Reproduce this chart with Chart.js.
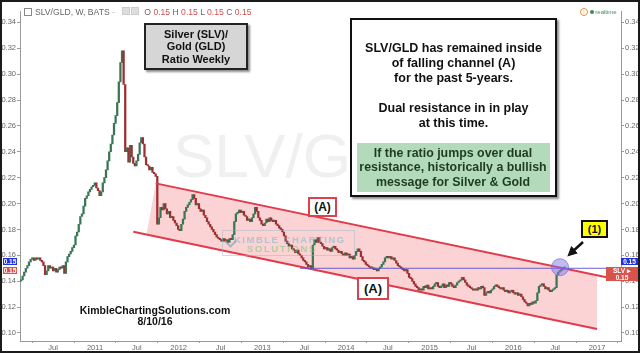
<!DOCTYPE html>
<html>
<head>
<meta charset="utf-8">
<script src="https://cdn.jsdelivr.net/npm/chart.js@4.4.0/dist/chart.umd.min.js"></script>
<style>
  body { margin: 0; background: #fff; font-family: "Liberation Sans", Arial, sans-serif; }
  #wrap { position: relative; width: 640px; height: 353px; border: 2px solid #1b1b1b; box-sizing: border-box; overflow: hidden; background: #fff; }
  #c { position: absolute; left: 0; top: 0; z-index: 1; }
  .wm { position: absolute; z-index: 0; color: #f0f0f0; font-size: 62px; line-height: 62px; white-space: nowrap; }
  .box { position: absolute; z-index: 3; box-sizing: border-box; text-align: center; font-weight: bold; color: #111; white-space: nowrap; }
  .shadow { box-shadow: 2px 2px 2px rgba(0,0,0,0.45); }
  .tag { position: absolute; z-index: 3; font-size: 6.5px; line-height: 7px; color: #fff; text-align: center; font-weight: bold; }
</style>
</head>
<body>
<div id="wrap">
  <div class="wm" style="left:171px;top:123px;">SLV/GLD</div>
  <canvas id="c" width="636" height="349"></canvas>

  <!-- header -->
  <div style="position:absolute;z-index:3;left:22px;top:5px;font-size:8.6px;color:#666;white-space:nowrap;">
    <span style="display:inline-block;width:6px;height:6px;border:1px solid #888;vertical-align:-1px;margin-right:3px;"></span>SLV/GLD, W, BATS <span style="color:#bbb">-</span>
    <span style="display:inline-block;width:6px;height:6px;background:#ddd;border:1px solid #ccc;margin-left:5px;"></span><span style="display:inline-block;width:6px;height:6px;background:#ddd;border:1px solid #ccc;margin-left:1px;margin-right:5px;"></span>O <span style="color:#d05050">0.15</span> H <span style="color:#d05050">0.15</span> L <span style="color:#d05050">0.15</span> C <span style="color:#d05050">0.15</span>
  </div>
  <div style="position:absolute;z-index:3;left:578px;top:6px;font-size:6px;color:#4a8a6a;white-space:nowrap;">
    <span style="display:inline-block;width:6px;height:6px;border:1px solid #e8903a;border-radius:50%;color:#e8903a;font-size:5px;line-height:6px;text-align:center;">!</span>
    <span style="display:inline-block;width:4px;height:4px;border-radius:50%;background:#3a8a5a;"></span> realtime
  </div>

  <!-- note boxes -->
  <div class="box shadow" style="left:142px;top:21px;width:104px;height:47px;border:2px solid #222;background:#d6d6d6;font-size:11px;line-height:12.5px;padding-top:2.5px;">
    Silver (SLV)/<br>Gold (GLD)<br>Ratio Weekly
  </div>
  <div class="box shadow" style="left:348px;top:16px;width:207px;height:179px;border:2px solid #111;background:#fff;font-size:12.5px;line-height:15px;padding-top:20.5px;">
    SLV/GLD has remained inside<br>of falling channel (A)<br>for the past 5-years.<br><br>Dual resistance in in play<br>at this time.
    <div style="position:absolute;left:4.5px;top:122.5px;width:193px;height:49px;background:#b3dbbb;color:#1e3b22;font-size:12.4px;line-height:14.3px;padding-top:3.5px;box-sizing:border-box;">
      If the ratio jumps over dual<br>resistance, historically a bullish<br>message for Silver &amp; Gold
    </div>
  </div>

  <div class="box" style="left:306px;top:195px;width:29px;height:20px;border:2px solid #e0404e;background:#fff;font-size:12px;line-height:16px;">(A)</div>
  <div class="box" style="left:355px;top:275px;width:32px;height:23px;border:2px solid #e0404e;background:#fff;font-size:13px;line-height:19px;">(A)</div>
  <div class="box" style="left:579px;top:218px;width:27px;height:18px;border:2px solid #111;background:#ffff00;font-size:11px;line-height:14px;">(1)</div>

  <svg style="position:absolute;left:0;top:0;z-index:3;" width="636" height="349">
    <defs>
      <marker id="ah" markerWidth="4" markerHeight="4" refX="2" refY="2" orient="auto">
        <path d="M0,0 L4,2 L0,4 z" fill="#111"/>
      </marker>
    </defs>
    <line x1="581" y1="240" x2="569" y2="251" stroke="#111" stroke-width="2.5" marker-end="url(#ah)"/>
  </svg>

  <!-- logo watermark -->
  <div style="position:absolute;z-index:2;left:220px;top:228px;width:133px;height:26px;border:1px solid rgba(150,180,200,0.45);box-sizing:border-box;">
    <div style="position:absolute;left:11px;top:3px;font-size:9.5px;font-weight:bold;letter-spacing:1.5px;color:rgba(110,185,205,0.55);white-space:nowrap;">KIMBLE CHARTING</div>
    <div style="position:absolute;left:24px;top:12px;font-size:9.5px;font-weight:bold;letter-spacing:1.6px;color:rgba(120,195,120,0.55);white-space:nowrap;">SOLUTIONS</div>
    <div style="position:absolute;left:3px;top:6px;width:7px;height:7px;border-left:2px solid rgba(80,170,190,0.6);border-bottom:2px solid rgba(80,170,190,0.6);transform:rotate(-45deg);"></div>
  </div>

  <div class="box" style="left:58px;top:303px;width:190px;font-size:10.5px;line-height:11px;color:#111;">KimbleChartingSolutions.com<br>8/10/16</div>

  <!-- price tags -->
  <div class="tag" style="left:1px;top:256px;width:14px;background:#2030e0;">0.15</div>
  <div class="tag" style="left:1px;top:265px;width:14px;background:#d9534a;">0.15</div>
  <div class="tag" style="left:619px;top:256px;width:17px;background:#2030e0;">0.15</div>
  <div class="tag" style="left:604px;top:265px;width:32px;background:#d9534a;">SLV &#9656; 0.15</div>
</div>

<script>
// weekly closes of the SLV/GLD ratio
const open0 = 0.140;
const c2010 = [0.141,0.144,0.147,0.150,0.152,0.155,0.157,0.158,0.156,0.158,0.157,0.158,0.156,0.155,0.152,0.145,0.148,0.152,0.150,0.151,0.148,0.150,0.147,0.149,0.151,0.150,0.152,0.146,0.155,0.159,0.161,0.163,0.166,0.168,0.175,0.178,0.184,0.190,0.192,0.198,0.204,0.206,0.209,0.211,0.213,0.214,0.216];
const c2011 = [0.212,0.210,0.206,0.209,0.216,0.220,0.226,0.233,0.240,0.246,0.253,0.262,0.268,0.278,0.294,0.309,0.318,0.292,0.240,0.243,0.232,0.245,0.236,0.231,0.229,0.233,0.238,0.247,0.251,0.246,0.236,0.230,0.229,0.226,0.228,0.224,0.223,0.221,0.184,0.189,0.197,0.195,0.200,0.196,0.192,0.194,0.189,0.190,0.187,0.185,0.183,0.180];
const c2012 = [0.179,0.184,0.188,0.194,0.197,0.199,0.201,0.203,0.207,0.204,0.199,0.200,0.196,0.194,0.195,0.191,0.189,0.186,0.184,0.182,0.180,0.178,0.176,0.174,0.173,0.172,0.171,0.173,0.171,0.172,0.170,0.173,0.172,0.176,0.186,0.192,0.193,0.195,0.193,0.194,0.191,0.190,0.187,0.188,0.186,0.189,0.192,0.197,0.194,0.189,0.187,0.184,0.183];
const c2013 = [0.185,0.188,0.186,0.189,0.187,0.186,0.187,0.184,0.183,0.181,0.180,0.178,0.175,0.171,0.169,0.167,0.168,0.165,0.164,0.162,0.164,0.161,0.160,0.158,0.156,0.155,0.153,0.151,0.152,0.150,0.168,0.172,0.170,0.174,0.170,0.169,0.167,0.165,0.166,0.164,0.165,0.163,0.166,0.167,0.165,0.164,0.162,0.163,0.161,0.160,0.162,0.160];
const c2014 = [0.161,0.158,0.159,0.157,0.160,0.163,0.165,0.163,0.159,0.156,0.155,0.153,0.152,0.151,0.150,0.150,0.149,0.149,0.148,0.150,0.151,0.153,0.155,0.158,0.159,0.158,0.159,0.157,0.158,0.156,0.154,0.152,0.151,0.150,0.149,0.148,0.149,0.146,0.143,0.142,0.140,0.138,0.136,0.135,0.133,0.134,0.133,0.136,0.135,0.137,0.134,0.135];
const c2015 = [0.134,0.136,0.138,0.139,0.136,0.135,0.136,0.138,0.135,0.137,0.136,0.139,0.138,0.136,0.135,0.137,0.139,0.140,0.141,0.143,0.141,0.139,0.137,0.136,0.135,0.134,0.133,0.134,0.133,0.135,0.134,0.136,0.135,0.129,0.131,0.132,0.131,0.133,0.134,0.136,0.137,0.136,0.135,0.134,0.135,0.133,0.132,0.133,0.131,0.132,0.133,0.131];
const c2016 = [0.130,0.131,0.129,0.130,0.128,0.126,0.124,0.123,0.121,0.123,0.122,0.124,0.123,0.125,0.131,0.136,0.137,0.138,0.136,0.134,0.135,0.133,0.132,0.133,0.134,0.135,0.145,0.147,0.148,0.149,0.150,0.150];

// first candle date (decimal year), one candle a week
const firstWeek = 2010.1156;
const weekStep = 7 / 365.25;

// falling channel (A), in date / ratio units
const channelX = [2011.726, 2017.0, 2017.0, 2011.616];
const channelY = [0.2156, 0.1446, 0.1030, 0.1762];
const upperX = [2011.726, 2017.2866];
const upperY = [0.2156, 0.1407];
const lowerX = [2011.458, 2017.0];
const lowerY = [0.1782, 0.1030];
// horizontal resistance and the marked point (1)
const resX = [2013.45, 2017.2866];
const resY = [0.150, 0.150];
const markX = [2016.558];
const markY = [0.1508];

// axes
const xMin = 2010.1036, xMax = 2017.2866;
const yMin = 0.0938, yMax = 0.3484;
const xTicks = [2010.5, 2011, 2011.5, 2012, 2012.5, 2013, 2013.5, 2014, 2014.5, 2015, 2015.5, 2016, 2016.5, 2017];
const xTickLabels = ['Jul', '2011', 'Jul', '2012', 'Jul', '2013', 'Jul', '2014', 'Jul', '2015', 'Jul', '2016', 'Jul', '2017'];
const yTicks = [0.10, 0.12, 0.14, 0.16, 0.18, 0.20, 0.22, 0.24, 0.26, 0.28, 0.30, 0.32, 0.34];

const closes = [].concat(c2010, c2011, c2012, c2013, c2014, c2015, c2016);
const candles = closes.map((c, i) => ({ x: firstWeek + i * weekStep, y: [i ? closes[i - 1] : open0, c] }));
const zip = (xs, ys) => xs.map((x, i) => ({ x: x, y: ys[i] }));

const upCol = '#3a7656';
const downCol = '#9c2f2f';
const tickFont = { family: '"Liberation Sans", Arial, sans-serif', size: 7.5 };

function yAxis(pos, w) {
  return {
    type: 'linear', position: pos, min: yMin, max: yMax,
    afterBuildTicks: s => { s.ticks = yTicks.map(v => ({ value: v })); },
    afterFit: s => { s.width = w; },
    ticks: { callback: v => v.toFixed(2), font: tickFont, color: '#666', padding: 1, autoSkip: false },
    grid: { drawOnChartArea: false, tickLength: 3, color: '#999' },
    border: { color: '#999' }
  };
}

new Chart(document.getElementById('c'), {
  type: 'bar',
  data: {
    datasets: [
      { type: 'line', data: zip(channelX, channelY), fill: 'shape', backgroundColor: 'rgba(244,110,115,0.30)', borderWidth: 0, pointRadius: 0, order: 10 },
      { type: 'bar', data: candles, barThickness: 1.6, minBarLength: 1.5,
        backgroundColor: ctx => { const v = ctx.raw && ctx.raw.y; return v && v[1] >= v[0] ? upCol : downCol; }, order: 5 },
      { type: 'line', data: zip(upperX, upperY), borderColor: '#e23a4a', borderWidth: 2, pointRadius: 0, fill: false, order: 2 },
      { type: 'line', data: zip(lowerX, lowerY), borderColor: '#e23a4a', borderWidth: 2, pointRadius: 0, fill: false, order: 2 },
      { type: 'line', data: zip(resX, resY), borderColor: 'rgba(90,80,210,0.9)', borderWidth: 1, pointRadius: 0, fill: false, order: 1 },
      { type: 'line', data: zip(markX, markY), showLine: false, pointRadius: 8.5, pointBackgroundColor: 'rgba(130,120,235,0.5)', pointBorderColor: 'rgba(120,110,220,0.7)', pointBorderWidth: 1, order: 0 }
    ]
  },
  options: {
    responsive: false,
    animation: false,
    layout: { padding: 0 },
    plugins: { legend: { display: false }, tooltip: { enabled: false } },
    scales: {
      x: {
        type: 'linear', min: xMin, max: xMax, offset: false,
        afterBuildTicks: s => { s.ticks = xTicks.map(v => ({ value: v })); },
        afterFit: s => { s.height = 10; },
        ticks: { callback: (v, i) => xTickLabels[i], font: tickFont, color: '#666', padding: 0, maxRotation: 0, autoSkip: false },
        grid: { drawOnChartArea: false, tickLength: 2, color: '#999' },
        border: { color: '#999' }
      },
      y: yAxis('left', 18),
      y2: yAxis('right', 17)
    }
  }
});
</script>
</body>
</html>
